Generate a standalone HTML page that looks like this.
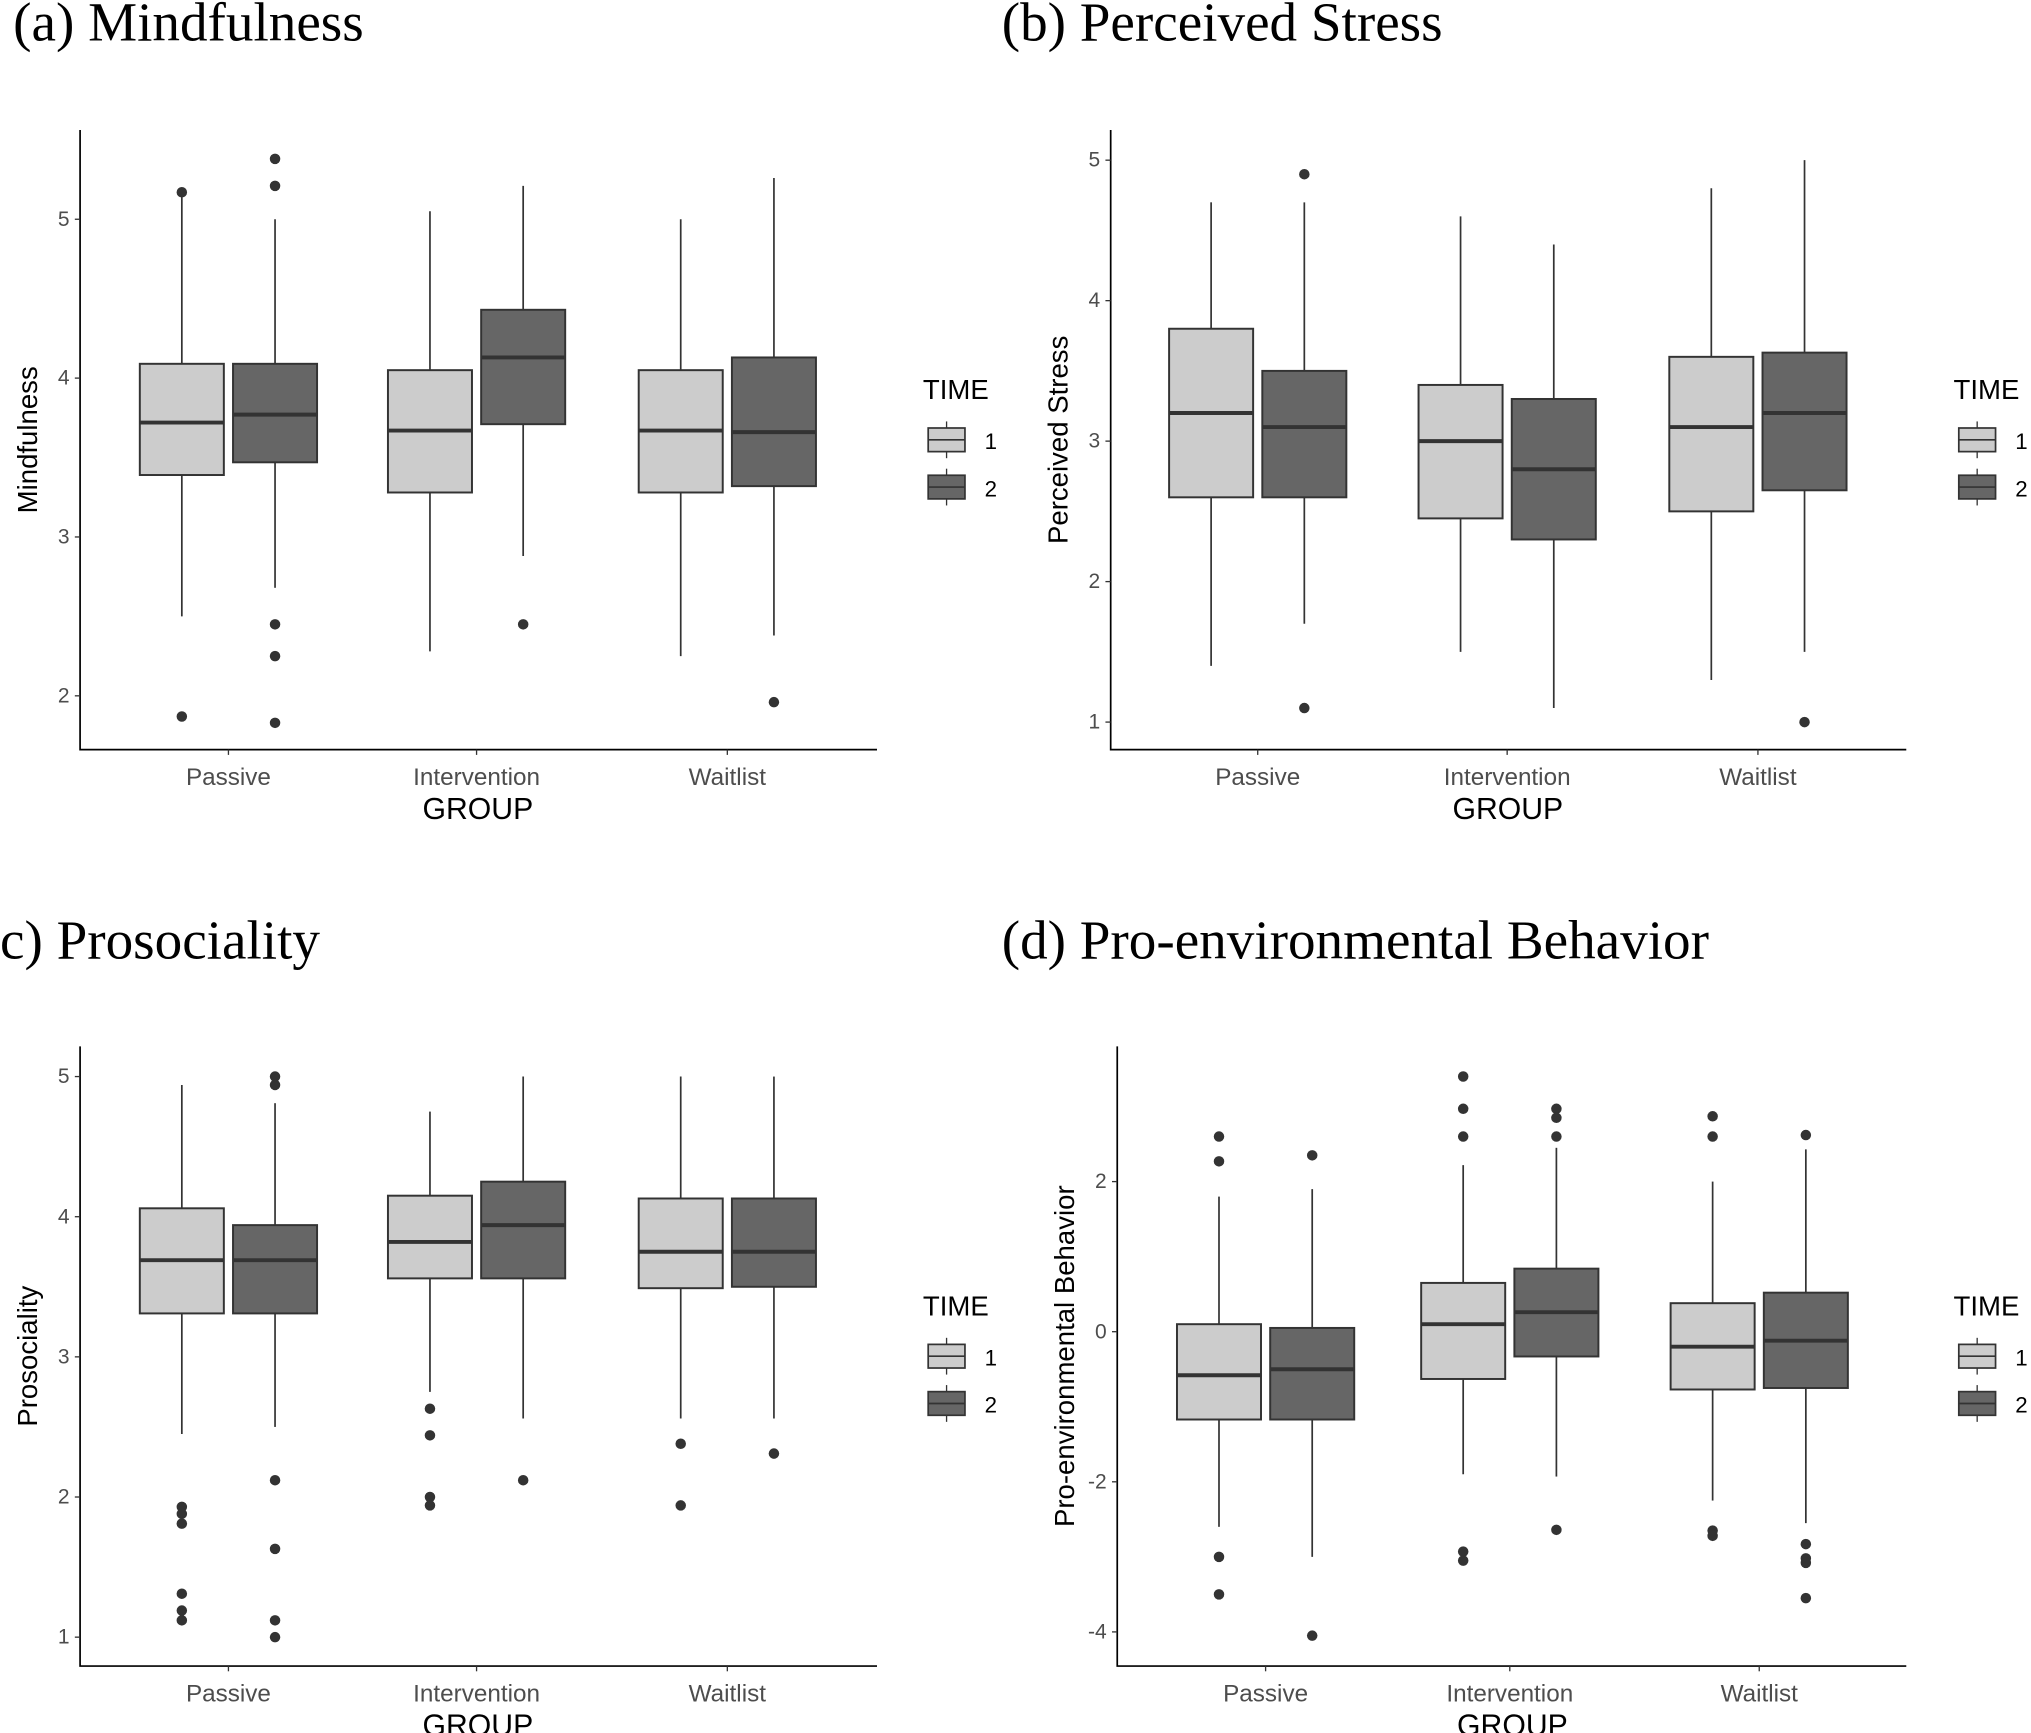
<!DOCTYPE html>
<html><head><meta charset="utf-8"><style>
html,body{margin:0;padding:0;background:#fff;}
svg{display:block;}
text{font-family:"Liberation Sans",sans-serif;}
.ttl{font-family:"Liberation Serif",serif;font-size:42px;fill:#000;}
</style></head><body>
<svg id="fig" width="2031" height="1733" viewBox="0 0 1547 1320" preserveAspectRatio="none" xmlns="http://www.w3.org/2000/svg">
<text class="ttl" x="10" y="31">(a)  Mindfulness</text>
<text class="ttl" x="763" y="31">(b) Perceived Stress</text>
<text class="ttl" x="0" y="730">c) Prosociality</text>
<text class="ttl" x="763" y="730">(d) Pro-environmental Behavior</text>
</svg>
<script>
const groups = ["Passive","Intervention","Waitlist"];
// stats per panel: [lo, q1, med, q3, hi] ordered P1,P2,I1,I2,W1,W2
const mindStats = [[2.5,3.39,3.72,4.09,5.15],[2.68,3.47,3.77,4.09,5.0],[2.28,3.28,3.67,4.05,5.05],[2.88,3.71,4.13,4.43,5.21],[2.25,3.28,3.67,4.05,5.0],[2.38,3.32,3.66,4.13,5.26]];
const mindOut = [[5.17,1.87],[5.38,5.21,2.45,2.25,1.83],[],[2.45],[],[1.96]];
const stressStats = [[1.4,2.6,3.2,3.8,4.7],[1.7,2.6,3.1,3.5,4.7],[1.5,2.45,3.0,3.4,4.6],[1.1,2.3,2.8,3.3,4.4],[1.3,2.5,3.1,3.6,4.8],[1.5,2.65,3.2,3.63,5.0]];
const stressOut = [[],[4.9,1.1],[],[],[],[1.0]];
const proStats = [[2.45,3.31,3.69,4.06,4.94],[2.5,3.31,3.69,3.94,4.81],[2.75,3.56,3.82,4.15,4.75],[2.56,3.56,3.94,4.25,5.0],[2.56,3.49,3.75,4.13,5.0],[2.56,3.5,3.75,4.13,5.0]];
const proOut = [[1.93,1.88,1.81,1.31,1.19,1.12],[5.0,4.94,2.12,1.63,1.12,1.0],[2.63,2.44,2.0,1.94],[2.12],[2.38,1.94],[2.31]];
const envStats = [[-2.6,-1.17,-0.58,0.1,1.8],[-3.0,-1.17,-0.5,0.05,1.9],[-1.9,-0.63,0.1,0.65,2.22],[-1.93,-0.33,0.26,0.84,2.45],[-2.25,-0.77,-0.2,0.38,2.0],[-2.55,-0.75,-0.12,0.52,2.43]];
const envOut = [[2.6,2.27,-3.0,-3.5],[2.35,-4.05],[3.4,2.97,2.6,-2.93,-3.05],[2.97,2.85,2.6,-2.64],[2.87,2.6,-2.65,-2.72],[2.62,-2.83,-3.02,-3.08,-3.55]];
const mindTicks = [2,3,4,5], stressTicks=[1,2,3,4,5], proTicks=[1,2,3,4,5], envTicks=[-4,-2,0,2];

const NS="http://www.w3.org/2000/svg";
const svg=document.getElementById('fig');
function mk(tag,attrs,parent,txt){const e=document.createElementNS(NS,tag);for(const k in attrs)e.setAttribute(k,attrs[k]);if(txt!==undefined)e.textContent=txt;(parent||svg).appendChild(e);return e;}

const panels=[
 {id:'a',stats:mindStats,out:mindOut,ticks:mindTicks,ytitle:'Mindfulness',x0:61,x1:668,top:99,bot:571,v0:2,p0:530,v1:5,p1:167,gx:[174,363,554],legX:703,legY:296},
 {id:'b',stats:stressStats,out:stressOut,ticks:stressTicks,ytitle:'Perceived Stress',x0:846,x1:1452,top:99,bot:571,v0:1,p0:550,v1:5,p1:122,gx:[958,1148,1339],legX:1488,legY:296},
 {id:'c',stats:proStats,out:proOut,ticks:proTicks,ytitle:'Prosociality',x0:61,x1:668,top:797,bot:1269,v0:1,p0:1247,v1:5,p1:820,gx:[174,363,554],legX:703,legY:994},
 {id:'d',stats:envStats,out:envOut,ticks:envTicks,ytitle:'Pro-environmental Behavior',x0:851,x1:1452,top:797,bot:1269,v0:-4,p0:1243,v1:2,p1:900,gx:[964,1150,1340],legX:1488,legY:994}
];
const fills=['#cccccc','#666666'];
panels.forEach(P=>{
 const g=mk('g',{});
 
 
 const y=v=>P.p0+(v-P.v0)*(P.p1-P.p0)/(P.v1-P.v0);
 const ax=mk('path',{d:`M${P.x0},${P.top}V${P.bot}H${P.x1}`,fill:'none',stroke:'#000','stroke-width':1.3},g);
 
 
 P.ticks.forEach(t=>{
  mk('line',{x1:P.x0-4,x2:P.x0,y1:y(t),y2:y(t),stroke:'#333','stroke-width':1},g);
  const tl=mk('text',{x:P.x0-8,y:y(t)+5,'text-anchor':'end','font-size':16,fill:'#4d4d4d'},g,String(t));
  
  
 });
 groups.forEach((gn,i)=>{
  mk('line',{x1:P.gx[i],x2:P.gx[i],y1:P.bot,y2:P.bot+4,stroke:'#333'},g);
  const xl=mk('text',{x:P.gx[i],y:P.bot+27,'text-anchor':'middle','font-size':18.5,fill:'#4d4d4d'},g,gn);
  
  
  [0,1].forEach(k=>{
   const s=P.stats[i*2+k], o=P.out[i*2+k];
   const cx=P.gx[i]+(k?35.5:-35.5), w=64;
   const bg=mk('g',{},g);
   
   
   mk('line',{x1:cx,x2:cx,y1:y(s[0]),y2:y(s[1]),stroke:'#333','stroke-width':1.3},bg);
   mk('line',{x1:cx,x2:cx,y1:y(s[3]),y2:y(s[4]),stroke:'#333','stroke-width':1.3},bg);
   mk('rect',{x:cx-w/2,y:y(s[3]),width:w,height:y(s[1])-y(s[3]),fill:fills[k],stroke:'#333','stroke-width':1.5},bg);
   mk('line',{x1:cx-w/2,x2:cx+w/2,y1:y(s[2]),y2:y(s[2]),stroke:'#333','stroke-width':3},bg);
   o.forEach(v=>{
    const c=mk('circle',{cx:cx,cy:y(v),r:4,fill:'#333'},bg);
    
    
   });
  });
 });
 const xt=mk('text',{x:(P.gx[0]+P.gx[2])/2,y:P.bot+53,'text-anchor':'middle','font-size':23,fill:'#000'},g,'GROUP');
 
 
 const ym=(P.top+P.bot)/2;
 const yt=mk('text',{x:0,y:0,transform:`translate(${P.x0-33},${ym}) rotate(-90)`,'text-anchor':'middle','font-size':21,fill:'#000'},g,P.ytitle);
 
 
 const lg=mk('g',{},g);
 
 
 mk('text',{x:P.legX,y:P.legY+8,'font-size':21,fill:'#000'},lg,'TIME');
 [0,1].forEach(k=>{
  const ky=P.legY+29+k*36;
  const e=mk('g',{},lg);
  
  
  mk('line',{x1:P.legX+18,x2:P.legX+18,y1:ky-4,y2:ky+24,stroke:'#333'},e);
  mk('rect',{x:P.legX+4,y:ky+1,width:28,height:18,fill:fills[k],stroke:'#333','stroke-width':1.3},e);
  mk('line',{x1:P.legX+4,x2:P.legX+32,y1:ky+10,y2:ky+10,stroke:'#333','stroke-width':1.3},e);
  mk('text',{x:P.legX+47,y:ky+17,'font-size':17,fill:'#000'},e,String(k+1));
 });
});
</script>
</body></html>
